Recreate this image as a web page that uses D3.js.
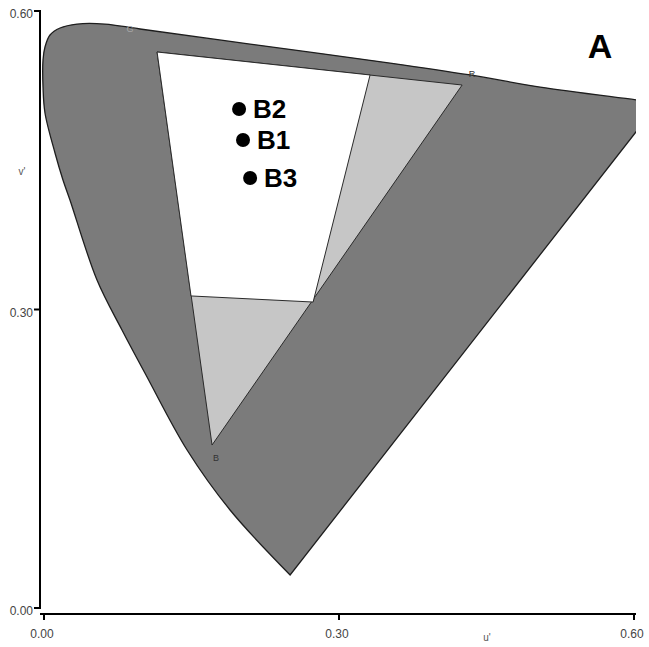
<!DOCTYPE html>
<html>
<head>
<meta charset="utf-8">
<script src="https://cdn.jsdelivr.net/npm/d3@7"></script>
<style>
  body { margin: 0; background: #fff; }
  svg { display: block; font-family: "Liberation Sans", Arial, Helvetica, sans-serif; }
</style>
</head>
<body>
<div id="chart"></div>
<script>
// spectral locus (u', v'), from the blue tip round to the red end
const locus = [
  [0.2503, 0.0332], [0.1892, 0.0985], [0.1455, 0.1588], [0.1037, 0.2342],
  [0.0793, 0.2794], [0.0539, 0.3296], [0.0264, 0.4101], [0.0193, 0.4302],
  [0.0112, 0.4573], [0.0010, 0.4975], [-0.0010, 0.5236], [-0.0010, 0.5508],
  [0.0010, 0.5638], [0.0061, 0.5759], [0.0163, 0.5829], [0.0336, 0.5869],
  [0.0621, 0.5869], [0.0977, 0.5819], [0.2096, 0.5668], [0.3520, 0.5477],
  [0.4334, 0.5357], [0.5046, 0.5236], [0.6033, 0.5106], [0.6250, 0.5076]
];
// display gamut primaries
const gamut = [[0.1150, 0.5588], [0.4252, 0.5256], [0.1709, 0.1638]];
const gamutNames = ["G", "R", "B"];
// inner white area
const inner = [[0.1150, 0.5588], [0.3316, 0.5357], [0.2737, 0.3075], [0.1495, 0.3136]];
// measured points
const pointNames = ["B2", "B1", "B3"];
const pointU = [0.1984, 0.2024, 0.2096];
const pointV = [0.5015, 0.4704, 0.4322];
const ticks = [0.0, 0.3, 0.6];

const width = 649, height = 647;

const x = d3.scaleLinear().domain([0, 0.6]).range([44, 634]);
const y = d3.scaleLinear().domain([0, 0.6]).range([608, 11]);

const svg = d3.select("#chart").append("svg")
  .attr("width", width)
  .attr("height", height);

svg.append("clipPath").attr("id", "plot")
  .append("rect")
  .attr("x", 0).attr("y", 0)
  .attr("width", x(0.6) + 2).attr("height", y(0));

const g = svg.append("g").attr("clip-path", "url(#plot)");

// curved part of the locus, then the straight purple line back to the tip
const curve = d3.line()
  .x(d => x(d[0])).y(d => y(d[1]))
  .curve(d3.curveCatmullRom.alpha(0.5));
g.append("path")
  .attr("d", curve(locus) + "Z")
  .attr("fill", "#7b7b7b")
  .attr("stroke", "#1e1e1e")
  .attr("stroke-width", 1.3);

const poly = d3.line().x(d => x(d[0])).y(d => y(d[1]));
g.append("path")
  .attr("d", poly(gamut) + "Z")
  .attr("fill", "#c6c6c6")
  .attr("stroke", "#2a2a2a")
  .attr("stroke-width", 1);

g.append("path")
  .attr("d", poly(inner) + "Z")
  .attr("fill", "#fff")
  .attr("stroke", "#2a2a2a")
  .attr("stroke-width", 1);

// primary labels
const primOffset = { G: [-27, -20], R: [10, -8], B: [4, 16] };
g.selectAll(".prim")
  .data(gamut)
  .enter()
  .append("text")
  .attr("x", (d, i) => x(d[0]) + primOffset[gamutNames[i]][0])
  .attr("y", (d, i) => y(d[1]) + primOffset[gamutNames[i]][1])
  .attr("text-anchor", "middle")
  .style("font-size", "9px")
  .attr("fill", (d, i) => i === 0 ? "#a8a8a8" : "#333")
  .text((d, i) => gamutNames[i]);

// measured points
svg.selectAll(".pt")
  .data(pointNames)
  .enter()
  .append("circle")
  .attr("cx", (d, i) => x(pointU[i]))
  .attr("cy", (d, i) => y(pointV[i]))
  .attr("r", 7)
  .attr("fill", "#000");

svg.selectAll(".ptlabel")
  .data(pointNames)
  .enter()
  .append("text")
  .attr("x", (d, i) => x(pointU[i]) + 14)
  .attr("y", (d, i) => y(pointV[i]) + 9)
  .style("font-size", "26px")
  .style("font-weight", "bold")
  .attr("fill", "#000")
  .text(d => d);

svg.append("text")
  .attr("x", 600).attr("y", 58)
  .attr("text-anchor", "middle")
  .style("font-size", "34px")
  .style("font-weight", "bold")
  .text("A");

// axes
const axisY = svg.append("g").attr("transform", "translate(40,0)");
axisY.append("line")
  .attr("x1", 0).attr("x2", 0)
  .attr("y1", y(0.6) - 1).attr("y2", y(0) + 1)
  .attr("stroke", "#000").attr("stroke-width", 2);
axisY.selectAll(".tk")
  .data(ticks)
  .enter()
  .append("line")
  .attr("x1", -6).attr("x2", 0)
  .attr("y1", d => y(d)).attr("y2", d => y(d))
  .attr("stroke", "#000").attr("stroke-width", 2);
axisY.selectAll(".tl")
  .data(ticks)
  .enter()
  .append("text")
  .attr("x", -7)
  .attr("y", d => y(d) + 7)
  .attr("text-anchor", "end")
  .style("font-size", "12px")
  .attr("fill", "#444")
  .text(d => d.toFixed(2));

const axisX = svg.append("g").attr("transform", "translate(0,614)");
axisX.append("line")
  .attr("x1", 40).attr("x2", x(0.6) + 2)
  .attr("y1", 0).attr("y2", 0)
  .attr("stroke", "#000").attr("stroke-width", 2);
axisX.selectAll(".tk")
  .data(ticks)
  .enter()
  .append("line")
  .attr("x1", d => x(d)).attr("x2", d => x(d))
  .attr("y1", 0).attr("y2", 6)
  .attr("stroke", "#000").attr("stroke-width", 2);
axisX.selectAll(".tl")
  .data(ticks)
  .enter()
  .append("text")
  .attr("x", d => x(d) - 2)
  .attr("y", 24)
  .attr("text-anchor", "middle")
  .style("font-size", "12px")
  .attr("fill", "#444")
  .text(d => d.toFixed(2));

svg.append("text")
  .attr("x", 487).attr("y", 641)
  .attr("text-anchor", "middle")
  .style("font-size", "10px")
  .attr("fill", "#555")
  .text("u'");

svg.append("text")
  .attr("x", 22).attr("y", 175)
  .attr("text-anchor", "middle")
  .style("font-size", "10px")
  .attr("fill", "#555")
  .text("v'");
</script>
</body>
</html>
